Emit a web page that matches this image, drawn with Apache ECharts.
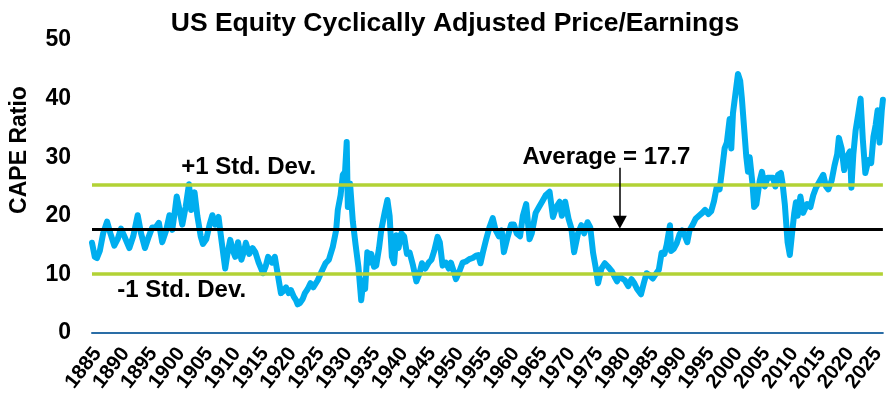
<!DOCTYPE html>
<html>
<head>
<meta charset="utf-8">
<title>US Equity CAPE</title>
<script src="https://cdn.jsdelivr.net/npm/echarts@6.0.0/dist/echarts.min.js"></script>
<style>
  html, body { margin: 0; padding: 0; background: #fff; }
  #chart { width: 888px; height: 405px; }
</style>
</head>
<body>
<div id="chart"></div>
<script>
// CAPE ratio (decimal year, ratio)
const years = [
  1884.0, 1884.5, 1884.9, 1885.4, 1886.0, 1886.7, 1887.3, 1888.0, 1888.6, 1889.2,
  1889.8, 1890.7, 1891.4, 1892.2, 1892.8, 1893.5, 1894.2, 1894.8, 1895.4, 1896.0,
  1896.6, 1897.3, 1897.9, 1898.4, 1898.9, 1899.2, 1899.7, 1900.2, 1900.8, 1901.4,
  1901.8, 1902.1, 1902.4, 1902.9, 1903.5, 1903.9, 1904.5, 1905.1, 1905.6, 1906.1,
  1906.7, 1907.2, 1907.9, 1908.3, 1908.8, 1909.3, 1909.7, 1910.2, 1910.8, 1911.3,
  1911.6, 1912.2, 1912.8, 1913.3, 1913.9, 1914.7, 1915.2, 1915.6, 1916.3, 1916.8,
  1917.4, 1917.9, 1918.4, 1918.8, 1919.3, 1919.7, 1920.2, 1920.6, 1920.9, 1921.3,
  1921.8, 1922.2, 1922.7, 1923.2, 1923.7, 1924.5, 1925.2, 1925.9, 1926.5, 1927.2,
  1927.8, 1928.1, 1928.6, 1929.0, 1929.4, 1929.7, 1929.9, 1930.3, 1930.8, 1931.3,
  1931.8, 1932.3, 1932.7, 1933.0, 1933.4, 1933.8, 1934.1, 1934.6, 1935.0, 1935.5,
  1935.9, 1936.5, 1937.0, 1937.4, 1937.8, 1938.2, 1938.6, 1939.0, 1939.5, 1940.0,
  1940.5, 1941.0, 1941.6, 1942.2, 1942.7, 1943.2, 1943.8, 1944.4, 1944.9, 1945.4,
  1946.0, 1946.4, 1946.9, 1947.5, 1948.0, 1948.4, 1948.9, 1949.3, 1949.9, 1950.5,
  1951.1, 1951.7, 1952.3, 1952.9, 1953.3, 1953.7, 1954.2, 1954.7, 1955.3, 1955.9,
  1956.4, 1957.0, 1957.5, 1957.9, 1958.6, 1959.2, 1959.7, 1960.2, 1960.8, 1961.3,
  1961.9, 1962.5, 1962.9, 1963.6, 1964.2, 1964.8, 1965.4, 1966.1, 1966.7, 1967.3,
  1967.9, 1968.3, 1968.9, 1969.5, 1970.0, 1970.5, 1971.2, 1971.8, 1972.3, 1972.9,
  1973.4, 1973.9, 1974.4, 1974.8, 1975.4, 1976.0, 1976.6, 1977.3, 1977.8, 1978.2,
  1978.6, 1979.1, 1979.6, 1980.2, 1980.8, 1981.3, 1981.8, 1982.5, 1983.0, 1983.5,
  1984.1, 1984.6, 1985.1, 1985.7, 1986.2, 1986.7, 1987.1, 1987.7, 1987.9, 1988.4,
  1988.9, 1989.4, 1989.9, 1990.4, 1990.8, 1991.2, 1991.8, 1992.3, 1992.9, 1993.5,
  1994.0, 1994.6, 1995.1, 1995.6, 1996.1, 1996.6, 1997.0, 1997.5, 1997.9, 1998.4,
  1998.7, 1999.0, 1999.4, 1999.9, 2000.3, 2000.6, 2001.0, 2001.4, 2001.7, 2002.0,
  2002.5, 2002.8, 2003.2, 2003.8, 2004.2, 2004.7, 2005.2, 2005.7, 2006.2, 2006.6,
  2007.1, 2007.6, 2007.9, 2008.3, 2008.8, 2009.2, 2009.6, 2010.0, 2010.3, 2010.6,
  2011.1, 2011.6, 2011.9, 2012.3, 2012.9, 2013.4, 2013.9, 2014.5, 2015.2, 2015.7,
  2016.1, 2016.7, 2017.2, 2017.7, 2018.0, 2018.5, 2018.95, 2019.4, 2020.0, 2020.25,
  2020.6, 2021.0, 2021.5, 2021.9, 2022.3, 2022.75, 2023.3, 2023.8, 2024.2, 2024.6,
  2024.95, 2025.3, 2025.7, 2025.9
];
const cape = [
  15.4, 13.0, 12.8, 14.0, 17.0, 19.0, 17.0, 14.9, 16.0, 17.8,
  16.5, 14.5, 16.5, 20.1, 17.0, 14.5, 16.5, 18.0, 18.0, 18.8,
  15.5, 17.5, 20.1, 17.6, 21.0, 23.3, 21.0, 18.5, 21.5, 25.4,
  21.0, 22.5, 24.0, 20.0, 16.5, 15.2, 16.0, 18.5, 20.1, 18.5,
  19.8, 16.0, 11.0, 13.5, 15.9, 14.0, 13.0, 15.5, 12.5, 14.0,
  15.4, 13.5, 14.5, 13.8, 12.0, 10.2, 11.5, 13.0, 12.0, 13.0,
  9.6, 6.8, 7.2, 7.8, 6.8, 7.3, 6.2, 5.6, 4.9, 5.1,
  5.8, 6.8, 7.5, 8.5, 7.8, 9.0, 10.5, 11.9, 12.5, 14.7,
  17.5, 21.0, 23.5, 27.0, 27.5, 32.6, 21.5, 25.5, 19.0, 15.0,
  11.3, 5.6, 9.0, 7.5, 13.8, 12.0, 13.5, 11.3, 11.5, 14.5,
  17.6, 20.5, 22.7, 20.0, 13.0, 11.9, 16.7, 14.5, 17.0, 16.5,
  13.5, 13.7, 11.5, 8.8, 10.0, 11.9, 11.0, 12.0, 12.5, 14.0,
  16.4, 15.5, 11.5, 12.0, 11.0, 12.0, 10.5, 9.2, 10.5, 12.0,
  12.2, 12.6, 12.8, 13.2, 13.3, 11.9, 14.0, 15.9, 18.0, 19.6,
  17.6, 16.5, 17.5, 13.8, 16.5, 18.5, 18.5, 17.0, 16.5, 20.0,
  22.0, 16.0, 17.0, 20.5, 21.5, 22.5, 23.5, 24.1, 19.8, 21.5,
  22.4, 20.0, 22.4, 19.5, 17.9, 13.8, 17.0, 18.4, 17.0, 18.9,
  18.0, 13.7, 11.0, 8.5, 11.0, 11.9, 11.3, 10.5, 9.5, 8.8,
  9.7, 9.3, 9.0, 8.0, 9.2, 8.5, 7.5, 6.6, 8.5, 10.2,
  9.8, 9.3, 10.0, 10.8, 13.7, 13.5, 15.0, 18.4, 14.0, 14.4,
  15.3, 16.8, 17.5, 16.5, 15.5, 17.5, 18.5, 19.5, 20.0, 20.5,
  21.0, 20.3, 20.8, 22.5, 25.0, 24.5, 27.5, 31.5, 32.5, 36.5,
  31.5, 37.5, 40.5, 44.2, 43.0, 40.0, 35.0, 30.0, 27.5, 30.0,
  25.5, 21.5, 22.0, 26.0, 27.5, 25.0, 26.5, 26.5, 26.5, 25.0,
  27.0, 27.3, 25.5, 22.0, 15.5, 13.3, 17.0, 20.5, 22.3, 20.0,
  23.3, 20.5, 20.8, 22.0, 21.5, 23.5, 24.8, 25.8, 27.0, 25.0,
  24.5, 26.0, 28.5, 30.5, 33.3, 31.5, 27.8, 30.0, 31.0, 24.8,
  30.5, 34.5, 37.5, 40.0, 33.0, 27.3, 29.5, 29.0, 33.5, 35.5,
  38.0, 32.5, 38.0, 39.8
];

// tick labels
const yearTicks = [1885, 1890, 1895, 1900, 1905, 1910, 1915, 1920, 1925, 1930,
  1935, 1940, 1945, 1950, 1955, 1960, 1965, 1970, 1975, 1980,
  1985, 1990, 1995, 2000, 2005, 2010, 2015, 2020, 2025];

// reference levels
const average = 17.7;
const upperBand = 25.3;   // +1 std. dev.
const lowerBand = 10.1;   // -1 std. dev.

// annotations, in data units [year, ratio]
const arrowYear = 1978.7;
const arrowFrom = 28.2;
const arrowTo = 18.9;
const notes = [
  { text: '+1 Std. Dev.', at: [1912.1, 28.3] },
  { text: '-1 Std. Dev.', at: [1900.1, 7.2] },
  { text: 'Average = 17.7', at: [1976.3, 30.0] }
];

const FONT = 'Liberation Sans, Arial, Helvetica, sans-serif';

const chart = echarts.init(document.getElementById('chart'));

const seriesData = years.map((y, i) => [y, cape[i]]);

chart.setOption({
  animation: false,
  backgroundColor: '#fff',
  title: {
    text: 'US Equity Cyclically Adjusted Price/Earnings',
    left: 450,
    textAlign: 'center',
    top: 5,
    textStyle: { fontFamily: FONT, fontSize: 26.5, fontWeight: 'bold', color: '#000' }
  },
  grid: { left: 92, right: 0, top: 40, bottom: 72 },
  xAxis: {
    type: 'value',
    min: 1884,
    max: 2025.9,
    splitLine: { show: false },
    axisTick: { show: false },
    axisLine: { show: true, onZero: true, lineStyle: { color: '#2A6DA6', width: 2 } },
    axisLabel: {
      customValues: yearTicks,
      showMinLabel: true,
      showMaxLabel: true,
      formatter: v => String(v),
      rotate: 52,
      margin: 17,
      lineHeight: 16,
      fontFamily: FONT,
      fontSize: 20.5,
      fontWeight: 'bold',
      color: '#000'
    }
  },
  yAxis: {
    type: 'value',
    min: 0,
    max: 50,
    interval: 10,
    splitLine: { show: false },
    axisLine: { show: false },
    axisTick: { show: false },
    axisLabel: {
      margin: 21,
      fontFamily: FONT,
      fontSize: 23,
      fontWeight: 'bold',
      color: '#000'
    }
  },
  graphic: [{
    type: 'text',
    x: 20,
    y: 150,
    rotation: Math.PI / 2,
    style: {
      text: 'CAPE Ratio',
      font: 'bold 23px ' + FONT,
      fill: '#000',
      align: 'center',
      verticalAlign: 'middle'
    }
  }],
  series: [
    {
      name: 'CAPE',
      type: 'line',
      data: seriesData,
      symbol: 'none',
      z: 2,
      lineStyle: { color: '#00AEEF', width: 6, cap: 'round', join: 'round' }
    },
    {
      name: 'levels',
      type: 'line',
      data: [],
      z: 5,
      markLine: {
        silent: true,
        symbol: 'none',
        animation: false,
        label: { show: false },
        data: [
          { yAxis: upperBand, lineStyle: { color: '#B2D235', width: 3.5, type: 'solid' } },
          { yAxis: lowerBand, lineStyle: { color: '#B2D235', width: 3.5, type: 'solid' } },
          { yAxis: average, lineStyle: { color: '#000', width: 3, type: 'solid' } },
          [
            { coord: [arrowYear, arrowFrom], symbol: 'none' },
            { coord: [arrowYear, arrowTo], symbol: 'triangle', symbolSize: [14, 13] }
          ]
        ],
        lineStyle: { color: '#000', width: 1.5, type: 'solid' },
        emphasis: { disabled: true }
      },
      markPoint: {
        silent: true,
        symbol: 'circle',
        symbolSize: 0,
        data: notes.map(n => ({
          coord: n.at,
          value: n.text,
          label: {
            show: true,
            position: 'inside',
            formatter: n.text,
            fontFamily: FONT,
            fontSize: 24,
            fontWeight: 'bold',
            color: '#000'
          }
        }))
      }
    }
  ]
});
</script>
</body>
</html>
